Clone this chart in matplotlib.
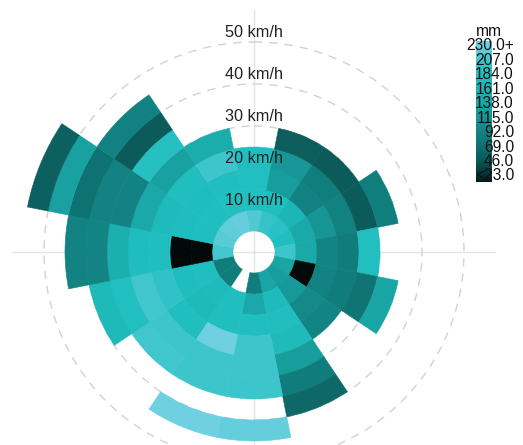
import numpy as np
import matplotlib
matplotlib.use("Agg")
import matplotlib.pyplot as plt
import matplotlib.transforms as mtransforms
from matplotlib.colors import LinearSegmentedColormap, Normalize

plt.rcParams["font.family"] = ["Liberation Sans", "DejaVu Sans"]

# ---- data -------------------------------------------------------------
directions = ["N", "NNE", "NE", "ENE", "E", "ESE", "SE", "SSE",
              "S", "SSW", "SW", "WSW", "W", "WNW", "NW", "NNW"]
speed_step = 5  # km/h per ring
# precipitation (mm) for each 5 km/h speed bin, starting with 0-5 km/h
n_mm   = [None, 215, 185, 185, 180]
nne_mm = [None, 200, 180, 125, 118, 52]
ne_mm  = [None, 190, 160, 90, 88, 50]
ene_mm = [None, 180, 140, 115, 90, 50, 88]
e_mm   = [None, 205, 140, 95, 85, 185]
ese_mm = [None, 135, 5, 92, 85, 75, 135]
se_mm  = [None, 125, 120, 100, 95]
sse_mm = [None, 135, 175, 182, 170, 125, 85, 62]
s_mm   = [None, 87, 140, 180, 205, 205, 205, None, 225]
ssw_mm = [None, None, 180, 182, 238, 205, 205, None, 238]
sw_mm  = [None, 85, 172, 168, 180, 205, 208]
wsw_mm = [None, 85, 180, 178, 195, 208, 185, 168]
w_mm   = [None, 210, 5, 5, 180, 178, 150, 95, 92]
wnw_mm = [None, 220, 182, 178, 172, 140, 92, 92, 72, 130, 55]
nw_mm  = [None, 222, 182, 178, 180, 130, 188, 50, 90]
nnw_mm = [None, 225, 185, 182, 205, 145]
rose = [n_mm, nne_mm, ne_mm, ene_mm, e_mm, ese_mm, se_mm, sse_mm,
        s_mm, ssw_mm, sw_mm, wsw_mm, w_mm, wnw_mm, nw_mm, nnw_mm]

ring_ticks = [10, 20, 30, 40, 50]
cbar_ticks = [230, 207, 184, 161, 138, 115, 92, 69, 46, 23]
cbar_labels = ["230.0+", "207.0", "184.0", "161.0", "138.0",
               "115.0", "92.0", "69.0", "46.0", "<23.0"]

# ---- colour scale -------------------------------------------------------
cmap = LinearSegmentedColormap.from_list("rain", [
    (0.00, "#000000"), (0.10, "#072f2f"), (0.20, "#0c5757"),
    (0.30, "#0f6f6f"), (0.40, "#128282"), (0.50, "#169595"),
    (0.60, "#1aa7a7"), (0.70, "#1db6b6"), (0.80, "#21bfc0"),
    (0.90, "#3ec5cc"), (1.00, "#6ed0e0")])
norm = Normalize(0, 230, clip=True)

# ---- figure -------------------------------------------------------------
W, H, DPI = 523, 445, 100
fig = plt.figure(figsize=(W / DPI, H / DPI), dpi=DPI)
cx, cy, R = 254, H - 252, 242
ax = fig.add_axes([(cx - R) / W, (cy - R) / H, 2 * R / W, 2 * R / H],
                  projection="polar")
ax.set_theta_zero_location("N")
ax.set_theta_direction(-1)
ax.set_ylim(0, R / 4.2)
ax.spines["polar"].set_visible(False)
ax.set_facecolor("none")

width = 2 * np.pi / len(directions)
for i, bins in enumerate(rose):
    theta = i * width
    for k, mm in enumerate(bins):
        if mm is None:
            continue
        c = cmap(norm(mm))
        ax.bar(theta, speed_step, width=width, bottom=k * speed_step,
               color=c, edgecolor=c, linewidth=0.4, zorder=2)

ax.set_xticks(np.deg2rad([0, 90, 180, 270]))
ax.set_xticklabels([])
ax.set_yticks(ring_ticks)
ax.set_yticklabels([])
ax.xaxis.grid(True, color="#e4e4e4", linewidth=1.0, linestyle="-")
ax.yaxis.grid(True, color="#d2d2d2", linewidth=1.0, linestyle=(0, (6, 5)))
ax.set_axisbelow(True)

label_tr = mtransforms.offset_copy(ax.transData, fig=fig, y=9.5, units="dots")
for v in ring_ticks:
    ax.text(0, v, f"{v} km/h", transform=label_tr, ha="center", va="center",
            fontsize=11.7, color="#222222", zorder=5)

# ---- colour bar ---------------------------------------------------------
bar_top, bar_bot = 41, 182
cax = fig.add_axes([476 / W, (H - bar_bot) / H, 16 / W, (bar_bot - bar_top) / H])
px_per_mm = (176 - 46) / (230 - 23)
ymax = 230 + (46 - bar_top) / px_per_mm
ymin = 23 - (bar_bot - 176) / px_per_mm
grad = np.linspace(ymin, ymax, 256)[:, None]
cax.imshow(grad, origin="lower", aspect="auto", cmap=cmap, norm=norm,
           extent=[0, 1, ymin, ymax])
cax.set_ylim(ymin, ymax)
cax.axis("off")
lab_tr = mtransforms.blended_transform_factory(fig.transFigure, cax.transData)
for v, s in zip(cbar_ticks, cbar_labels):
    cax.text(514 / W, v, s, transform=lab_tr, ha="right", va="center",
             fontsize=11.2, color="#111111")
fig.text(489 / W, 1 - 32 / H, "mm", ha="center", va="center",
         fontsize=11.2, color="#111111")

fig.savefig("out.png", dpi=DPI)
